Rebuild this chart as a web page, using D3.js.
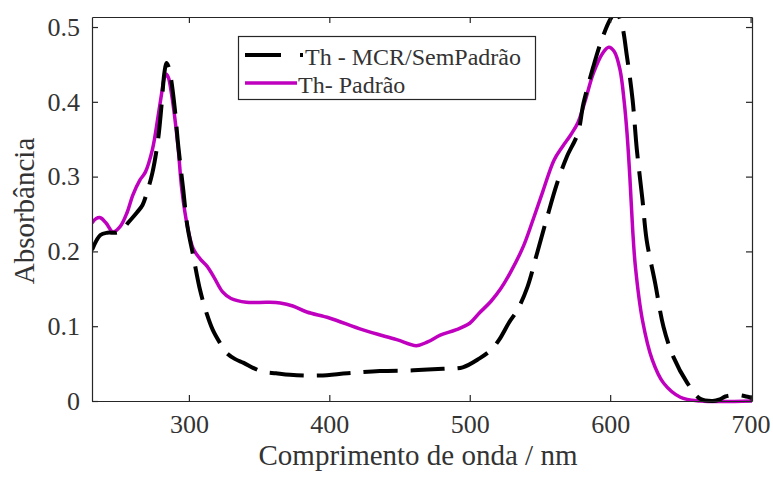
<!DOCTYPE html>
<html>
<head>
<meta charset="utf-8">
<script src="https://cdn.jsdelivr.net/npm/d3@7"></script>
<style>
  html, body { margin: 0; padding: 0; background: #fff; }
  svg { display: block; font-family: "Liberation Serif", "Times New Roman", serif; }
</style>
</head>
<body>
<svg id="chart" width="773" height="482"></svg>
<script>
// Absorption spectra of thionine: MCR-resolved (no standard) vs. standard
const mcrWavelength = [231, 237, 242, 248, 252, 257, 263, 267, 270, 274, 278, 280.5, 282.5, 284, 285.5, 287.5, 290, 292.5, 296, 299, 303, 308, 313, 317, 322, 327, 333, 339, 346, 353, 362, 372, 393, 413, 436, 460, 481, 495, 507, 515, 521, 528, 534, 541, 548, 555, 562, 569, 577, 581, 588, 594, 600, 604, 608, 612, 616, 619, 623, 626, 632, 638, 645, 655, 664, 673, 678, 682, 690, 697, 701];
const mcrAbsorbance = [0.202, 0.222, 0.225, 0.225, 0.228, 0.239, 0.252, 0.262, 0.278, 0.305, 0.349, 0.395, 0.438, 0.452, 0.447, 0.428, 0.390, 0.340, 0.282, 0.233, 0.195, 0.148, 0.115, 0.095, 0.078, 0.064, 0.056, 0.051, 0.044, 0.039, 0.037, 0.035, 0.034, 0.037, 0.040, 0.041, 0.043, 0.045, 0.057, 0.068, 0.082, 0.105, 0.122, 0.152, 0.198, 0.245, 0.290, 0.326, 0.358, 0.398, 0.447, 0.483, 0.510, 0.520, 0.505, 0.460, 0.402, 0.336, 0.269, 0.215, 0.158, 0.099, 0.059, 0.024, 0.003, 0.000, 0.002, 0.006, 0.008, 0.006, 0.004];

const stdWavelength = [231, 234, 237, 241, 246, 251, 256, 260, 265, 269, 274, 278, 280.5, 282.5, 284, 285.5, 287.5, 290, 292.5, 295, 299, 303, 308, 313, 318, 324, 330, 341, 356, 365, 374, 384, 400, 424, 448, 462, 470, 479, 490, 500, 507, 515, 522, 529, 538, 545, 552, 560, 566, 572, 577, 582, 588, 595, 599, 603, 607, 610, 612, 614, 616, 618, 623, 630, 638, 650, 664, 701];
const stdAbsorbance = [0.238, 0.244, 0.245, 0.238, 0.226, 0.233, 0.252, 0.275, 0.295, 0.306, 0.336, 0.380, 0.410, 0.432, 0.437, 0.432, 0.412, 0.378, 0.335, 0.282, 0.233, 0.204, 0.190, 0.180, 0.165, 0.146, 0.137, 0.132, 0.132, 0.131, 0.127, 0.119, 0.111, 0.095, 0.082, 0.074, 0.079, 0.088, 0.095, 0.104, 0.118, 0.133, 0.150, 0.172, 0.206, 0.242, 0.280, 0.322, 0.340, 0.356, 0.372, 0.400, 0.438, 0.466, 0.473, 0.467, 0.443, 0.400, 0.358, 0.300, 0.230, 0.179, 0.108, 0.055, 0.024, 0.005, 0.000, 0.000];

const xTicks = [300, 400, 500, 600, 700];
const yTicks = [0, 0.1, 0.2, 0.3, 0.4, 0.5];
const seriesNames = ["Th - MCR/SemPadrão", "Th- Padrão"];
const xTitle = "Comprimento de onda / nm";
const yTitle = "Absorbância";

const axisColor = "#262626";
const textColor = "#333333";
const magenta = "#bf00bf";

const svg = d3.select("#chart");
const plot = { left: 92, right: 752, top: 17, bottom: 401 };

const x = d3.scaleLinear().domain([231, 701]).range([plot.left, plot.right]);
const y = d3.scaleLinear().domain([0, 0.5134]).range([plot.bottom, plot.top]);

// clip region: top edge of the box cuts the tall peak
svg.append("defs").append("clipPath").attr("id", "plotClip")
  .append("rect")
  .attr("x", plot.left).attr("y", plot.top)
  .attr("width", plot.right - plot.left)
  .attr("height", plot.bottom - plot.top + 6);

const line = d3.line()
  .x(d => x(d[0]))
  .y(d => y(d[1]))
  .curve(d3.curveCatmullRom.alpha(0.5));

const mcrData = mcrWavelength.map((w, i) => [w, mcrAbsorbance[i]]);
const stdData = stdWavelength.map((w, i) => [w, stdAbsorbance[i]]);

const lines = svg.append("g").attr("clip-path", "url(#plotClip)");

lines.append("path")
  .datum(stdData)
  .attr("d", line)
  .attr("fill", "none")
  .attr("stroke", magenta)
  .attr("stroke-width", 3.5)
  .attr("stroke-linejoin", "round");

lines.append("path")
  .datum(mcrData)
  .attr("d", line)
  .attr("fill", "none")
  .attr("stroke", "#000")
  .attr("stroke-width", 4)
  .attr("stroke-dasharray", "34,13");

// axes with inward ticks on all four sides (box style)
const tickLen = 6;
const fmtY = d => d === 0 ? "0" : d3.format(".1f")(d);

const axBottom = svg.append("g")
  .attr("transform", `translate(0,${plot.bottom})`)
  .call(d3.axisBottom(x).tickValues(xTicks).tickSize(-tickLen).tickPadding(14).tickSizeOuter(0));
const axTop = svg.append("g")
  .attr("transform", `translate(0,${plot.top})`)
  .call(d3.axisTop(x).tickValues(xTicks).tickSize(-tickLen).tickFormat("").tickSizeOuter(0));
const axLeft = svg.append("g")
  .attr("transform", `translate(${plot.left},0)`)
  .call(d3.axisLeft(y).tickValues(yTicks).tickSize(-tickLen).tickFormat(fmtY).tickPadding(12).tickSizeOuter(0));
const axRight = svg.append("g")
  .attr("transform", `translate(${plot.right},0)`)
  .call(d3.axisRight(y).tickValues(yTicks).tickSize(-tickLen).tickFormat("").tickSizeOuter(0));

[axBottom, axTop, axLeft, axRight].forEach(g => {
  g.select(".domain").attr("stroke", axisColor).attr("stroke-width", 1.2);
  g.selectAll(".tick line").attr("stroke", axisColor).attr("stroke-width", 1.2);
  g.selectAll(".tick text")
    .attr("fill", textColor)
    .style("font-family", "'Liberation Serif', serif")
    .style("font-size", "26px");
});
axBottom.selectAll(".tick text").attr("dy", "0.71em");

// axis titles
svg.append("text")
  .attr("x", (plot.left + plot.right) / 2 - 4)
  .attr("y", 465)
  .attr("text-anchor", "middle")
  .attr("fill", textColor)
  .style("font-size", "29px")
  .text(xTitle);

svg.append("text")
  .attr("transform", `translate(34,${(plot.top + plot.bottom) / 2 + 2}) rotate(-90)`)
  .attr("text-anchor", "middle")
  .attr("fill", textColor)
  .style("font-size", "29px")
  .text(yTitle);

// legend
const legend = svg.append("g");
legend.append("rect")
  .attr("x", 238.5).attr("y", 36.5)
  .attr("width", 297).attr("height", 63)
  .attr("fill", "#fff")
  .attr("stroke", axisColor)
  .attr("stroke-width", 1.2);

legend.append("line")
  .attr("x1", 245).attr("x2", 303)
  .attr("y1", 55).attr("y2", 55)
  .attr("stroke", "#000").attr("stroke-width", 4)
  .attr("stroke-dasharray", "36,19");
legend.append("text")
  .attr("x", 305).attr("y", 65)
  .attr("fill", textColor)
  .style("font-size", "24px")
  .text(seriesNames[0]);

legend.append("line")
  .attr("x1", 245).attr("x2", 297)
  .attr("y1", 83).attr("y2", 83)
  .attr("stroke", magenta).attr("stroke-width", 3.5);
legend.append("text")
  .attr("x", 298).attr("y", 93)
  .attr("fill", textColor)
  .style("font-size", "24px")
  .text(seriesNames[1]);
</script>
</body>
</html>
